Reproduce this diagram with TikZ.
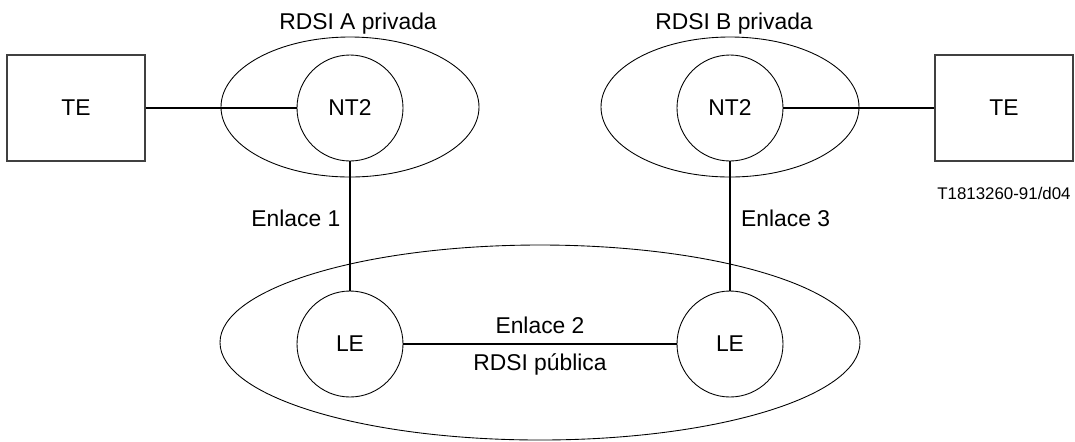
\documentclass[tikz,border=0pt]{standalone}
\usepackage{fontspec}
\setmainfont{Liberation Sans}
\usetikzlibrary{shapes.geometric}

\begin{document}
\begin{tikzpicture}[every node/.style={font=\fontsize{13}{15}\selectfont},
                tebox/.style={rectangle, draw=black!75, line width=0.6pt, minimum width=2.76cm, minimum height=2.12cm},
                station/.style={circle, draw, line width=0.5pt, minimum size=2.12cm},
                zone/.style={ellipse, draw, line width=0.5pt},
                link/.style={line width=1.1pt}]
                \useasboundingbox (0,0) rectangle (21.5,-8.82);

                % private networks
                \node[zone, minimum width=5.16cm, minimum height=2.8cm] (ZA) at (7.0,-2.14) {};
                \node[zone, minimum width=5.16cm, minimum height=2.8cm] (ZB) at (14.6,-2.14) {};
                \node (RA) at (7.16,-0.48) {RDSI A privada};
                \node (RB) at (14.68,-0.48) {RDSI B privada};

                % public network
                \node[zone, minimum width=12.8cm, minimum height=3.9cm] (ZP) at (10.8,-6.85) {};

                \node[tebox] (TEa) at (1.52,-2.16) {TE};
                \node[tebox] (TEb) at (20.08,-2.16) {TE};
                \node[station] (NTa) at (7.0,-2.16) {NT2};
                \node[station] (NTb) at (14.6,-2.16) {NT2};
                \node[station] (LEa) at (7.0,-6.88) {LE};
                \node[station] (LEb) at (14.6,-6.88) {LE};
                \draw[link] (TEa) -- (NTa);
                \draw[link] (NTb) -- (TEb);
                \draw[link] (NTa) -- (LEa);
                \draw[link] (NTb) -- (LEb);
                \draw[link] (LEa) -- (LEb);

                % labels
                \node[anchor=east] (E1) at (6.93,-4.36) {Enlace 1};
                \node[anchor=west] (E3) at (14.7,-4.36) {Enlace 3};
                \node (E2) at (10.8,-6.5) {Enlace 2};
                \node (RP) at (10.8,-7.28) {RDSI pública};
                \node[font=\fontsize{9.6}{11}\selectfont] (ref) at (20.08,-3.86) {T1813260-91/d04};
            \end{tikzpicture}
\end{document}
